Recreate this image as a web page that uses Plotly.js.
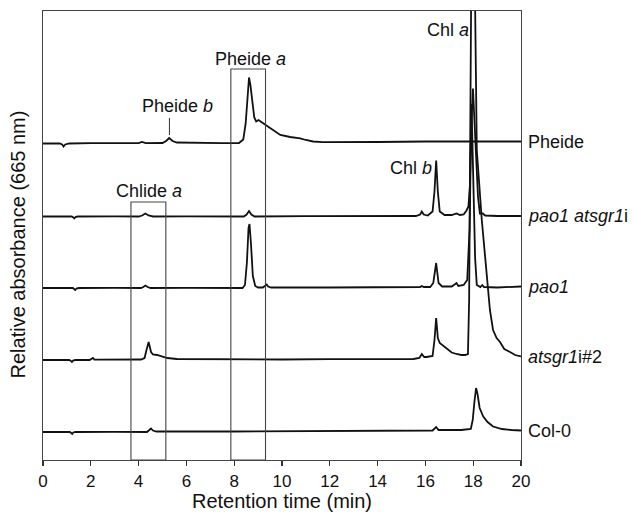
<!DOCTYPE html>
<html>
<head>
<meta charset="utf-8">
<script src="https://cdn.plot.ly/plotly-3.0.1.min.js"></script>
<style>html,body{margin:0;padding:0;background:#fff;}#chart{width:634px;height:517px;}</style>
</head>
<body>
<div id="chart"></div>
<script>
// ---- Data (retention time in min, relative absorbance in arbitrary units above each trace's baseline) ----
const sampleNames = ["Pheide", "<i>pao1 atsgr1</i>i", "<i>pao1</i>", "<i>atsgr1</i>i#2", "Col-0"];
const sampleOffsets = [316.5, 243.5, 172, 100, 28];

const pheideTime = [0, 0.7, 0.8, 0.86, 0.93, 1.1, 2, 3, 4.0, 4.14, 4.3, 5.0, 5.15, 5.28, 5.42, 5.6, 6.5, 7.5, 8.2, 8.38, 8.48, 8.56, 8.62, 8.68, 8.76, 8.84, 8.92, 9.02, 9.21, 9.5, 9.93, 10.34, 10.76, 11.0, 11.3, 11.7, 12.5, 14, 16, 18, 20];
const pheideAbs  = [0, 0, -1, -3, -1, 0, 0.3, 0.2, 0.3, 1.5, 0.3, 0.5, 2.5, 5.5, 2.5, 1, 0.5, 0.3, 0.5, 4, 20, 52, 66, 58, 40, 26, 22, 23.5, 20.3, 15.3, 8.5, 6.5, 5.2, 3.5, 2.0, 1.3, 1.2, 1.5, 2, 2.2, 2];

const paoSgrTime = [0, 1.2, 1.27, 1.31, 1.36, 1.45, 3, 4.0, 4.15, 4.28, 4.42, 4.6, 6, 8.4, 8.52, 8.62, 8.72, 8.85, 11, 14, 15.6, 15.78, 15.85, 15.93, 16.1, 16.3, 16.38, 16.45, 16.52, 16.6, 16.8, 17.1, 17.3, 17.45, 17.6, 17.72, 17.8, 17.86, 17.92, 17.99, 18.05, 18.12, 18.2, 18.28, 18.4, 18.5, 19, 20];
const paoSgrAbs  = [0, 0, -1, -2, -0.5, 0, 0.2, 0, 1, 3, 1, 0, 0.2, 0, 2, 5.5, 2, 0, 0.3, 0.5, 0.5, 2, 5, 2, 1, 5, 25, 56, 25, 5, 1.5, 1.5, 3, 1.5, 2, 6, 10, 30, 90, 128, 100, 60, 20, 3, 3, 1, 0.5, 0.5];

const paoTime = [0, 1.25, 1.3, 1.35, 1.4, 1.5, 3, 4.1, 4.2, 4.28, 4.38, 4.5, 6, 8.35, 8.45, 8.53, 8.6, 8.64, 8.7, 8.78, 8.88, 9.0, 9.2, 9.3, 9.36, 9.42, 9.55, 12, 15.6, 15.78, 15.85, 15.93, 16.2, 16.33, 16.45, 16.55, 16.7, 17.1, 17.25, 17.3, 17.38, 17.6, 17.75, 17.85, 17.93, 18.0, 18.08, 18.15, 18.3, 18.38, 18.45, 19, 20];
const paoAbs  = [0, 0, -1, -2, -0.5, 0, 0.2, 0, 1, 2.5, 1, 0, 0.2, 0, 3, 25, 60, 64, 45, 12, 2, 0.5, 0.5, 2, 3.5, 1.5, 0.5, 0.5, 0.5, 1, 2, 1, 1, 5, 25, 5, 1.5, 1.5, 4, 5, 2, 3, 8, 60, 184, 115, 30, 3, 1, 3, 1, 0.5, 1.5];

const sgrTime = [0, 1.1, 1.17, 1.21, 1.26, 1.35, 1.95, 2.05, 2.09, 2.15, 2.3, 4.1, 4.25, 4.33, 4.42, 4.52, 4.6, 4.77, 5.0, 5.2, 5.6, 6.5, 8, 10, 12, 14, 15.5, 15.75, 15.85, 15.95, 16.05, 16.3, 16.38, 16.45, 16.52, 16.6, 16.75, 16.9, 17.1, 17.3, 17.5, 17.66, 17.78, 17.83, 17.88, 17.93, 18.0, 18.05, 18.09, 18.15, 18.36, 18.63, 18.7, 18.83, 18.98, 19.12, 19.3, 19.54, 19.75, 20];
const sgrAbs  = [0, 0, -1, -2, -0.5, 0, 0, 1.5, 2, 0.5, 0.3, 0.5, 2, 10, 18, 8, 5.5, 5, 3.5, 2, 1, 0.8, 0.6, 0.5, 0.8, 1, 1, 2, 6, 3, 3, 4, 20, 42, 22, 17, 14, 11, 7.5, 6, 5, 5, 6, 60, 250, 420, 520, 430, 340, 210, 140, 72, 50, 30, 22, 18, 11, 8, 5, 3.5];

const colTime = [0, 1.12, 1.18, 1.22, 1.27, 1.35, 3, 4.35, 4.45, 4.52, 4.6, 4.75, 8, 12, 15.5, 16.3, 16.45, 16.55, 17, 17.5, 17.9, 17.98, 18.05, 18.12, 18.18, 18.27, 18.42, 18.6, 18.83, 19.2, 19.6, 20];
const colAbs  = [0, 0, -1, -2, -0.5, 0, 0.2, 0, 2, 3.5, 1.5, 0.5, 0.5, 0.8, 1, 1.5, 5, 2, 2, 2, 3, 12, 30, 44, 38, 24, 15.5, 10, 5.5, 3, 2, 1.5];

const sampleTimes = [pheideTime, paoSgrTime, paoTime, sgrTime, colTime];
const sampleAbs = [pheideAbs, paoSgrAbs, paoAbs, sgrAbs, colAbs];

const xTickVals = [0, 2, 4, 6, 8, 10, 12, 14, 16, 18, 20];

// Retention windows highlighted by boxes
const chlideWindow = [3.68, 5.14];
const pheideAWindow = [7.86, 9.31];

// ---- Build ----
const FONT = "Arial, 'Liberation Sans', Helvetica, sans-serif";
const traces = sampleNames.map((name, i) => ({
  x: sampleTimes[i],
  y: sampleAbs[i].map(v => v + sampleOffsets[i]),
  type: "scatter",
  mode: "lines",
  name: name,
  line: {color: "#111", width: 1.8},
  hoverinfo: "skip",
  showlegend: false
}));

const annotations = sampleNames.map((name, i) => ({
  text: name,
  xref: "paper", x: 1, xshift: 5, xanchor: "left",
  yref: "y", y: sampleOffsets[i] + sampleAbs[i][sampleAbs[i].length - 1], yanchor: "middle",
  showarrow: false,
  font: {family: FONT, size: 18, color: "#111"}
}));

const peakLabels = [
  {text: "Pheide <i>b</i>", x: 5.62, y: 354},
  {text: "Pheide <i>a</i>", x: 8.67, y: 401},
  {text: "Chlide <i>a</i>", x: 4.43, y: 269},
  {text: "Chl <i>a</i>", x: 16.93, y: 430},
  {text: "Chl <i>b</i>", x: 15.38, y: 292}
];
peakLabels.forEach(p => annotations.push({
  text: p.text, xref: "x", yref: "y", x: p.x, y: p.y,
  xanchor: "center", yanchor: "middle", showarrow: false,
  font: {family: FONT, size: 18, color: "#111"}
}));

annotations.push({
  text: "Relative absorbance (665 nm)",
  xref: "paper", yref: "paper", x: 0, xshift: -25, y: 0.48,
  xanchor: "center", yanchor: "middle", textangle: -90, showarrow: false,
  font: {family: FONT, size: 20, color: "#111"}
});

const boxLine = {color: "#444", width: 1.1};
const shapes = [
  {type: "rect", xref: "x", yref: "y", x0: chlideWindow[0], x1: chlideWindow[1], y0: 0, y1: 258, line: boxLine},
  {type: "rect", xref: "x", yref: "y", x0: pheideAWindow[0], x1: pheideAWindow[1], y0: 0, y1: 391, line: boxLine},
  {type: "line", xref: "x", yref: "y", x0: 5.29, x1: 5.29, y0: 325, y1: 342, line: {color: "#333", width: 1}}
];

const layout = {
  width: 634, height: 517,
  margin: {l: 43, r: 113, t: 11, b: 57},
  paper_bgcolor: "#fff", plot_bgcolor: "#fff",
  font: {family: FONT, color: "#111"},
  xaxis: {
    range: [0, 20], tickvals: xTickVals, ticktext: xTickVals.map(String),
    ticks: "outside", ticklen: 5, tickwidth: 1.1, tickcolor: "#333",
    showline: true, mirror: true, linecolor: "#444", linewidth: 1.1,
    showgrid: false, zeroline: false,
    tickfont: {family: FONT, size: 17, color: "#111"},
    title: {text: "Retention time (min)", font: {family: FONT, size: 20, color: "#111"}, standoff: 4}
  },
  yaxis: {
    range: [0, 449], showticklabels: false, ticks: "",
    showline: true, mirror: true, linecolor: "#444", linewidth: 1.1,
    showgrid: false, zeroline: false
  },
  shapes: shapes,
  annotations: annotations,
  showlegend: false
};

Plotly.newPlot("chart", traces, layout, {staticPlot: true, displayModeBar: false});
</script>
</body>
</html>
